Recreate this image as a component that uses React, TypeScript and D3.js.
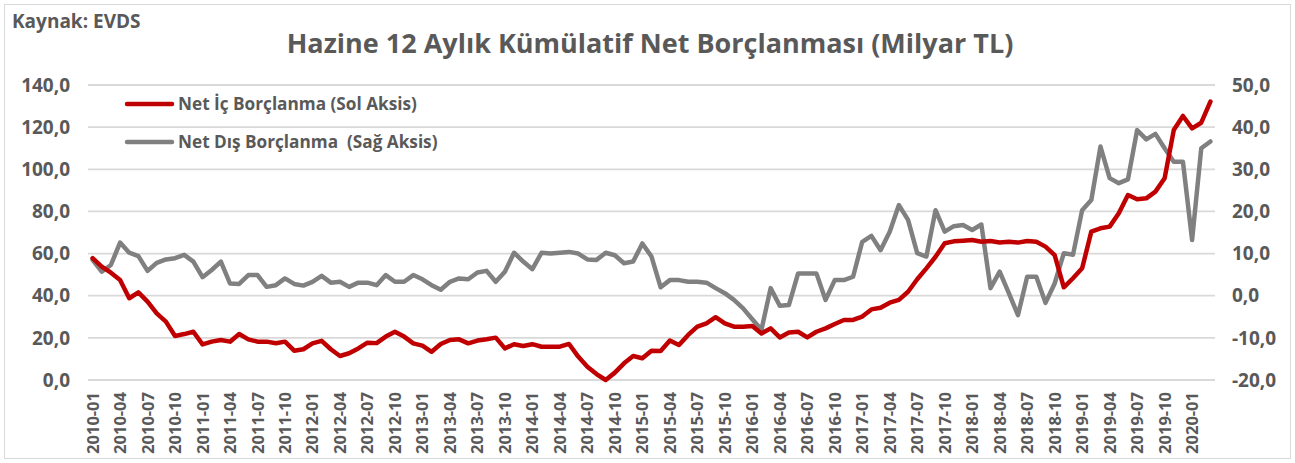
import React from 'react';
import * as d3 from 'd3';

// months 2010-01 .. 2020-03
const startYear = 2010;
const months = d3.range(123).map(i => {
  const y = startYear + Math.floor(i / 12);
  const m = (i % 12) + 1;
  return `${y}-${m < 10 ? '0' + m : m}`;
});

// Net iç borçlanma (left axis, milyar TL)
const icBorc = [
  57.8, 53.8, 50.9, 47.5, 38.8, 41.6, 37.2, 31.6, 27.7, 20.9, 21.8, 22.9,
  16.9, 18.2, 19.0, 18.2, 21.8, 19.3, 18.2, 18.2, 17.4, 18.2, 13.9, 14.6,
  17.4, 18.6, 14.6, 11.4, 12.7, 15.0, 17.7, 17.5, 20.6, 22.9, 20.6, 17.4,
  16.3, 13.4, 17.1, 19.0, 19.3, 17.4, 18.7, 19.3, 20.1, 15.0, 17.0, 16.1,
  17.0, 15.8, 15.8, 15.8, 17.1, 11.1, 6.3, 2.8, 0.0, 3.5, 7.9, 11.4,
  10.3, 13.9, 13.8, 18.7, 16.6, 21.4, 25.3, 26.9, 29.8, 26.9, 25.3, 25.3,
  25.6, 22.1, 24.5, 20.2, 22.5, 22.9, 20.2, 22.9, 24.5, 26.6, 28.5, 28.5,
  30.1, 33.5, 34.3, 36.7, 38.0, 41.9, 47.8, 53.0, 58.5, 64.9, 65.8, 66.1,
  66.4, 65.6, 66.0, 65.3, 65.6, 65.2, 66.0, 65.6, 63.3, 59.3, 44.0, 48.3,
  53.0, 70.4, 72.0, 72.8, 79.1, 87.8, 85.8, 86.2, 89.4, 95.7, 118.6, 125.3,
  119.4, 122.1, 132.1,
];

// Net dış borçlanma (right axis, milyar TL)
const disBorc = [
  8.5, 5.7, 7.3, 12.6, 10.2, 9.4, 5.9, 7.8, 8.6, 8.9, 9.7, 8.1,
  4.4, 6.1, 8.1, 2.9, 2.8, 4.9, 4.9, 2.1, 2.5, 4.1, 2.8, 2.4,
  3.3, 4.7, 3.1, 3.3, 2.1, 3.1, 3.1, 2.5, 4.9, 3.3, 3.3, 4.9,
  3.9, 2.5, 1.4, 3.3, 4.1, 3.9, 5.5, 5.9, 3.3, 5.7, 10.2, 8.1,
  6.3, 10.2, 10.0, 10.2, 10.4, 10.0, 8.6, 8.5, 10.2, 9.6, 7.7, 8.1,
  12.4, 9.3, 2.0, 3.7, 3.7, 3.3, 3.3, 3.1, 1.8, 0.6, -1.0, -3.0,
  -5.6, -8.1, 1.8, -2.4, -2.2, 5.3, 5.3, 5.3, -1.0, 3.7, 3.7, 4.5,
  12.8, 14.2, 10.8, 15.2, 21.5, 18.0, 10.1, 9.3, 20.3, 15.2, 16.5, 16.8,
  15.6, 16.9, 1.8, 5.7, 0.6, -4.6, 4.5, 4.5, -1.7, 2.9, 10.1, 9.7,
  20.3, 22.7, 35.4, 27.9, 26.7, 27.6, 39.3, 37.1, 38.4, 35.0, 31.8, 31.8,
  13.2, 35.0, 36.6,
];

const leftTicks = [0, 20, 40, 60, 80, 100, 120, 140];
const rightTicks = [-20, -10, 0, 10, 20, 30, 40, 50];

const W = 1295;
const H = 463;
const plot = { left: 88, right: 1215, top: 85, bottom: 380 };
const FONT = "'Open Sans', sans-serif";
const TXT = '#595959';
const RED = '#C00000';
const GRAY = '#808080';

const fmt = (v: number) => v.toFixed(1).replace('.', ',');

export default function App() {
  const x = d3.scaleBand<string>().domain(months).range([plot.left, plot.right]);
  const xc = (i: number) => (x(months[i]) ?? 0) + x.bandwidth() / 2;
  const yL = d3.scaleLinear().domain([0, 140]).range([plot.bottom, plot.top]);
  const yR = d3.scaleLinear().domain([-20, 50]).range([plot.bottom, plot.top]);

  const lineL = d3.line<number>().x((_, i) => xc(i)).y(d => yL(d));
  const lineR = d3.line<number>().x((_, i) => xc(i)).y(d => yR(d));

  const tickIdx = months.map((_, i) => i).filter(i => i % 3 === 0);

  return (
    <svg width={W} height={H} style={{ position: 'absolute', left: 0, top: 0, background: '#fff' }}
      fontFamily={FONT}>
      <rect x={4.5} y={4.5} width={W - 9} height={H - 9} fill="#fff" stroke="#d9d9d9" strokeWidth={1} />
      <text x={12} y={28} fontSize={19} fontWeight="bold" fill={TXT}>Kaynak: EVDS</text>
      <text x={650} y={53} fontSize={27} fontWeight="bold" fill={TXT} textAnchor="middle">
        Hazine 12 Aylık Kümülatif Net Borçlanması (Milyar TL)
      </text>

      {/* grid */}
      {leftTicks.map(t => (
        <line key={t} x1={plot.left} x2={plot.right} y1={yL(t)} y2={yL(t)}
          stroke="#d9d9d9" strokeWidth={1.8} />
      ))}

      {/* left axis labels */}
      {leftTicks.map(t => (
        <text key={'l' + t} x={70} y={yL(t)} dy="0.35em" textAnchor="end" fontSize={19}
          fontWeight="bold" fill={TXT}>{fmt(t)}</text>
      ))}
      {/* right axis labels */}
      {rightTicks.map(t => (
        <text key={'r' + t} x={1232} y={yR(t)} dy="0.35em" textAnchor="start" fontSize={19}
          fontWeight="bold" fill={TXT}>{fmt(t)}</text>
      ))}

      {/* x labels */}
      {tickIdx.map(i => (
        <text key={'x' + i} transform={`translate(${xc(i) + 6},${plot.bottom + 12}) rotate(-90)`}
          textAnchor="end" fontSize={16.5} fontWeight="bold" fill={TXT}>{months[i]}</text>
      ))}

      <path d={lineR(disBorc) ?? ''} fill="none" stroke={GRAY} strokeWidth={4.5}
        strokeLinejoin="round" strokeLinecap="round" />
      <path d={lineL(icBorc) ?? ''} fill="none" stroke={RED} strokeWidth={4.5}
        strokeLinejoin="round" strokeLinecap="round" />

      {/* legend */}
      <line x1={127} x2={172} y1={104} y2={104} stroke={RED} strokeWidth={4.5} strokeLinecap="round" />
      <text x={178} y={104} dy="0.35em" fontSize={17.2} fontWeight="bold" fill={TXT}>Net İç Borçlanma (Sol Aksis)</text>
      <line x1={127} x2={172} y1={142} y2={142} stroke={GRAY} strokeWidth={4.5} strokeLinecap="round" />
      <text x={178} y={142} dy="0.35em" fontSize={17.2} fontWeight="bold" fill={TXT}
        style={{ whiteSpace: 'pre' }}>{'Net Dış Borçlanma  (Sağ Aksis)'}</text>
    </svg>
  );
}
